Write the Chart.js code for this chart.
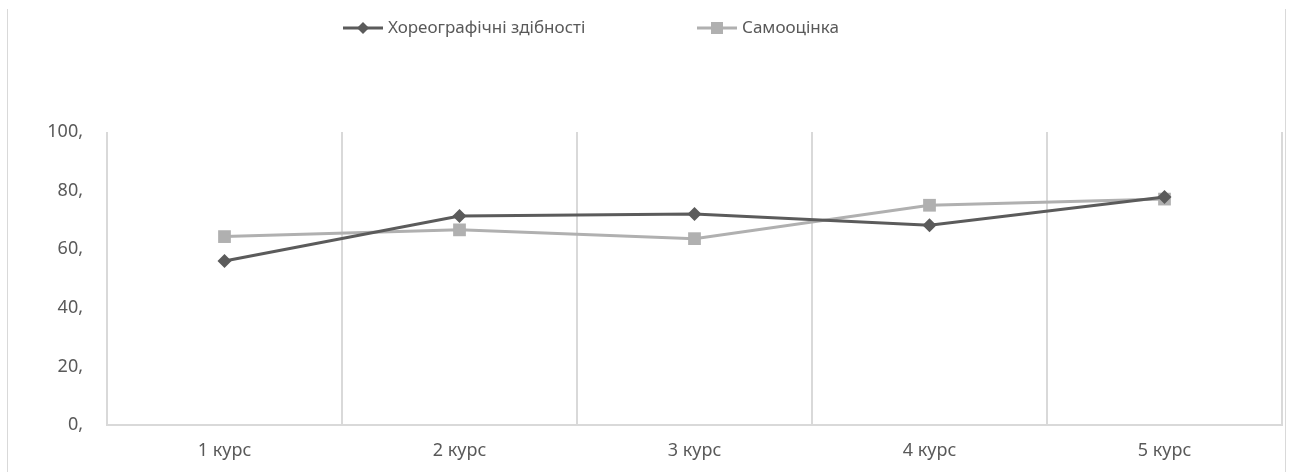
<!DOCTYPE html>
<html>
<head>
<meta charset="utf-8">
<script src="https://cdn.jsdelivr.net/npm/chart.js@4"></script>
<style>
  html, body { margin: 0; padding: 0; background: #fff; }
  #wrap { position: relative; width: 1292px; height: 472px; }
  #frame { position: absolute; left: 7px; top: 9px; width: 1279px; height: 463px;
           border-left: 1px solid #d9d9d9; border-right: 1px solid #d9d9d9; box-sizing: border-box; }
  canvas { position: absolute; left: 0; top: 0; }
</style>
</head>
<body>
<div id="wrap">
  <div id="frame"></div>
  <canvas id="lineChart" width="1292" height="472"></canvas>
</div>
<script>
const categories = ["1 курс", "2 курс", "3 курс", "4 курс", "5 курс"];
const choreography = [56.0, 71.3, 72.0, 68.2, 77.8];
const selfEsteem = [64.3, 66.6, 63.6, 75.0, 77.1];
const yTicks = [0, 20, 40, 60, 80, 100];

const darkGray = "#5b5b5b";
const lightGray = "#b0b0b0";
const textColor = "#595959";
const fontFamily = "'Noto Sans', 'Open Sans', sans-serif";

// legend drawn by hand: line with marker, like in Excel
const legendPlugin = {
    id: "excelLegend",
    afterDraw(chart) {
        const ctx = chart.ctx;
        const y = 28;
        const items = [
            { x: 343, label: "Хореографічні здібності", color: darkGray, marker: "diamond" },
            { x: 697, label: "Самооцінка", color: lightGray, marker: "square" }
        ];
        ctx.save();
        items.forEach((it) => {
            ctx.strokeStyle = it.color;
            ctx.lineWidth = 3;
            ctx.beginPath();
            ctx.moveTo(it.x, y);
            ctx.lineTo(it.x + 40, y);
            ctx.stroke();
            ctx.fillStyle = it.color;
            const cx = it.x + 20;
            ctx.beginPath();
            if (it.marker === "diamond") {
                ctx.moveTo(cx, y - 6);
                ctx.lineTo(cx + 6, y);
                ctx.lineTo(cx, y + 6);
                ctx.lineTo(cx - 6, y);
                ctx.closePath();
            } else {
                ctx.rect(cx - 6, y - 6, 12, 12);
            }
            ctx.fill();
            ctx.fillStyle = textColor;
            ctx.font = "17px " + fontFamily;
            ctx.textBaseline = "middle";
            ctx.textAlign = "left";
            ctx.fillText(it.label, it.x + 45, y);
        });
        ctx.restore();
    }
};

new Chart(document.getElementById("lineChart"), {
    type: "line",
    data: {
        labels: categories,
        datasets: [{
            label: "Хореографічні здібності",
            data: choreography,
            borderColor: darkGray,
            backgroundColor: darkGray,
            borderWidth: 3,
            pointStyle: "rectRot",
            pointRadius: 7,
            pointHoverRadius: 7,
            pointBorderWidth: 0,
            tension: 0
        }, {
            label: "Самооцінка",
            data: selfEsteem,
            borderColor: lightGray,
            backgroundColor: lightGray,
            borderWidth: 3,
            pointStyle: "rect",
            pointRadius: 9,
            pointHoverRadius: 9,
            pointBorderWidth: 0,
            tension: 0
        }]
    },
    options: {
        responsive: false,
        animation: false,
        layout: { padding: { top: 132, right: 10, left: 0, bottom: 0 } },
        plugins: {
            legend: { display: false },
            tooltip: { enabled: false }
        },
        scales: {
            x: {
                offset: true,
                grid: { offset: true, color: "#d9d9d9", lineWidth: 2, drawTicks: false },
                border: { color: "#d9d9d9", width: 2 },
                ticks: { color: textColor, font: { size: 18, family: fontFamily }, padding: 15 },
                afterFit(scale) { scale.height = 47; }
            },
            y: {
                min: 0,
                max: 100,
                afterBuildTicks(scale) { scale.ticks = yTicks.map((v) => ({ value: v })); },
                grid: { display: false, drawTicks: false },
                border: { display: false },
                ticks: {
                    color: textColor,
                    font: { size: 18, family: fontFamily },
                    padding: 24,
                    callback: (v) => v + ","
                },
                afterFit(scale) { scale.width = 107; }
            }
        }
    },
    plugins: [legendPlugin]
});
</script>
</body>
</html>
